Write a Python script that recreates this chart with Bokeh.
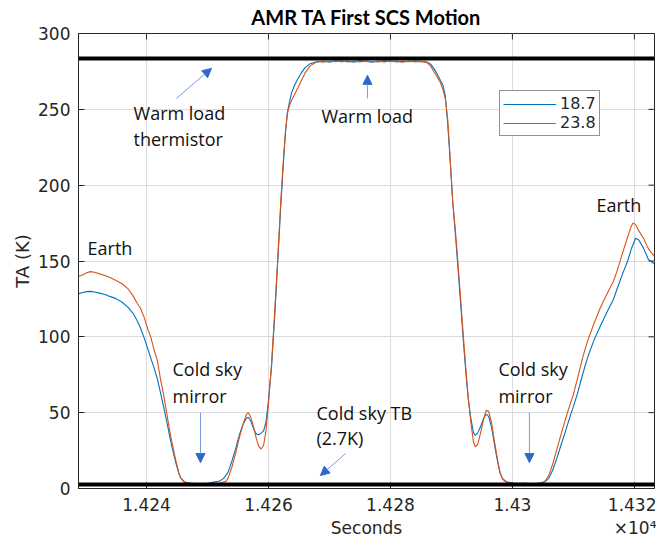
from bokeh.plotting import figure
from bokeh.models import (Range1d, FixedTicker, LinearAxis, Span, Label, Arrow,
                          NormalHead, Legend, LegendItem)
from bokeh.embed import file_html
from bokeh.resources import INLINE

# ---------------- data ----------------
time_s = [
    14228.9, 14229.5, 14230.2, 14230.8, 14231.5, 14232.3, 14233.2, 14234.1, 14235.0, 14236.0,
    14236.9, 14237.8, 14238.5, 14239.0, 14239.6, 14240.3, 14240.7, 14241.2, 14241.8, 14242.3,
    14242.8, 14243.3, 14243.8, 14244.2, 14244.8, 14245.3, 14245.6, 14246.2,
    14247.0, 14248.0, 14249.0, 14250.0, 14251.0, 14252.0, 14252.6, 14253.1,
    14253.4, 14254.0, 14254.6, 14255.2, 14255.8, 14256.4, 14256.7, 14257.1, 14257.6, 14258.0, 14258.4,
    14258.8, 14259.2, 14259.6, 14260.0, 14260.5, 14261.0, 14261.5, 14262.0, 14262.5, 14262.8, 14263.1,
    14263.4, 14263.8, 14264.3, 14264.8, 14265.4, 14266.0, 14266.8, 14267.6,
    14268.0, 14269.0, 14270.0, 14271.0, 14272.0, 14273.0, 14274.0, 14275.0, 14276.0,
    14277.0, 14278.0, 14279.0, 14280.0, 14281.0, 14282.0, 14283.0, 14284.0, 14285.0,
    14286.0, 14286.6, 14287.2, 14287.7, 14288.2, 14288.6, 14289.0, 14289.4, 14289.7, 14290.2,
    14290.8, 14291.4, 14292.0, 14292.5,
    14292.8, 14293.2, 14293.6, 14293.9, 14294.3, 14294.8, 14295.3, 14295.7, 14296.1, 14296.6,
    14297.1, 14297.6, 14298.0, 14298.4, 14299.0,
    14300.0, 14301.0, 14302.0, 14303.0, 14304.0, 14304.7, 14305.2,
    14305.5, 14306.0, 14306.6, 14307.3, 14308.0, 14308.8, 14309.5, 14310.0, 14310.7, 14311.5,
    14312.3, 14313.3, 14314.4, 14315.6, 14316.6, 14317.2, 14318.2, 14318.9, 14319.5, 14319.8,
    14320.2, 14320.7, 14321.5, 14322.3, 14323.3,
]

ta_187 = [
    128.5, 129.2, 129.8, 130.0, 129.6, 128.8, 127.9, 126.5, 125.2, 122.8,
    119.8, 115.5, 110.5, 106.0, 99.5, 91.0, 86.0, 80.0, 72.0, 63.0,
    54.0, 44.5, 34.5, 27.0, 17.0, 10.0, 7.0, 4.5,
    3.6, 3.2, 3.0, 3.3, 4.2, 5.0, 6.5, 9.0,
    11.0, 18.0, 26.0, 35.0, 42.0, 46.5, 47.0, 44.5, 39.0, 36.0, 35.5,
    36.5, 38.0, 44.0, 58.0, 80.0, 112.0, 148.0, 185.0, 218.0, 235.0, 248.0,
    254.0, 261.0, 266.0, 270.0, 274.0, 277.5, 280.0, 281.0,
    281.3, 281.9, 281.0, 282.0, 281.4, 281.8, 281.1, 282.1, 281.5,
    281.0, 281.9, 281.3, 282.0, 281.2, 281.7, 281.4, 281.9, 281.6,
    281.2, 279.8, 276.5, 273.0, 269.0, 266.0, 259.0, 240.0, 222.0, 190.0,
    160.0, 128.0, 95.0, 70.0,
    58.0, 46.0, 37.0, 35.0, 36.5, 41.0, 46.5, 49.0, 47.5, 40.0,
    28.0, 17.0, 10.0, 6.5, 4.5,
    3.6, 3.2, 3.5, 3.1, 3.4, 3.8, 4.5,
    5.0, 7.0, 12.0, 20.0, 29.0, 39.0, 48.0, 54.0, 63.0, 75.0,
    86.0, 97.0, 107.0, 117.0, 125.0, 132.0, 143.0, 150.0, 158.0, 161.0,
    165.0, 164.0, 158.5, 151.0, 148.0,
]

ta_238 = [
    140.0, 140.8, 142.3, 143.0, 142.6, 141.5, 140.5, 139.0, 137.2, 135.0,
    132.0, 127.0, 122.0, 119.0, 113.0, 104.0, 100.0, 92.0, 84.0, 72.0,
    62.0, 50.0, 38.0, 30.0, 18.5, 10.5, 7.0, 4.0,
    3.4, 3.0, 3.1, 3.5, 3.2, 3.6, 4.2, 5.0,
    7.0, 14.0, 23.0, 33.0, 42.0, 49.0, 50.0, 47.0, 40.0, 33.0, 28.0,
    26.0, 28.5, 38.0, 56.0, 82.0, 115.0, 150.0, 188.0, 220.0, 236.0, 247.0,
    252.0, 256.0, 260.0, 264.0, 269.0, 274.0, 278.5, 280.5,
    281.6, 281.1, 281.9, 281.4, 282.0, 281.2, 281.8, 281.3, 281.9,
    281.5, 281.2, 282.1, 281.4, 281.8, 281.0, 281.9, 281.3, 281.5,
    280.8, 278.5, 274.5, 271.0, 267.5, 263.0, 257.0, 243.0, 224.0, 190.0,
    163.0, 131.0, 98.0, 72.0,
    58.0, 43.0, 31.0, 27.5, 29.0, 37.0, 46.0, 51.5, 51.0, 43.0,
    30.0, 18.0, 10.0, 6.0, 4.0,
    3.3, 3.0, 3.4, 3.2, 3.0, 3.5, 4.3,
    5.5, 9.0, 16.0, 26.0, 36.0, 47.0, 56.0, 62.0, 73.0, 86.0,
    97.0, 108.0, 119.0, 129.0, 137.0, 144.0, 157.0, 166.0, 173.0, 175.0,
    174.0, 170.0, 165.0, 158.0, 153.0,
]

series_labels = ["18.7", "23.8"]
x_ticks = [14240, 14260, 14280, 14300, 14320]
x_tick_labels = ["1.424", "1.426", "1.428", "1.43", "1.432"]
y_ticks = [0, 50, 100, 150, 200, 250, 300]
x_label = "Seconds"
x_exponent = "×10⁴"
y_label = "TA (K)"
title_text = "AMR TA First SCS Motion"
warm_load_thermistor = 283.5
cold_sky_tb = 2.7

X0, X1 = 14228.85, 14323.3
Y0, Y1 = 0, 300
X_MID = (X0 + X1) / 2

# ---------------- figure ----------------
TXT = "#262626"
p = figure(width=656, height=540,
           x_range=Range1d(X0, X1), y_range=Range1d(Y0, Y1),
           output_backend="svg", toolbar_location=None,
           min_border_left=78, min_border_right=2,
           min_border_top=33, min_border_bottom=52)
p.outline_line_color = TXT
p.background_fill_color = "white"
p.border_fill_color = "white"

main_x = p.xaxis[0]
main_y = p.yaxis[0]

for ax in (main_x, main_y):
    ax.major_tick_in = 6
    ax.major_tick_out = 0
    ax.minor_tick_line_color = None
    ax.axis_line_color = TXT
    ax.major_tick_line_color = TXT
    ax.major_label_text_color = TXT
    ax.major_label_text_font = "DejaVu Sans"
    ax.major_label_text_font_size = "17px"
    ax.axis_label_text_font = "DejaVu Sans"
    ax.axis_label_text_font_size = "18px"
    ax.axis_label_text_font_style = "normal"
    ax.axis_label_text_color = TXT

main_x.ticker = FixedTicker(ticks=x_ticks)
main_x.major_label_overrides = {t: l for t, l in zip(x_ticks, x_tick_labels)}
main_x.major_label_standoff = 9

main_y.ticker = FixedTicker(ticks=y_ticks)
main_y.major_label_standoff = 8
main_y.axis_label = y_label
main_y.axis_label_standoff = 2

p.xgrid.ticker = FixedTicker(ticks=x_ticks)
p.ygrid.ticker = FixedTicker(ticks=y_ticks)
p.grid.grid_line_color = "#dcdcdc"
p.grid.grid_line_width = 1

# title row, centred over the axes box
title_ax = LinearAxis(ticker=FixedTicker(ticks=[X_MID], minor_ticks=[]),
                      major_label_overrides={X_MID: title_text},
                      axis_line_color=None, major_tick_line_color=None,
                      minor_tick_line_color=None, major_tick_in=0, major_tick_out=0,
                      major_label_standoff=5, major_label_text_font="Lato",
                      major_label_text_font_style="bold",
                      major_label_text_font_size="20px", major_label_text_color="black")
p.add_layout(title_ax, "above")

# second row under the tick labels: axis title centred, exponent at the right end
x_exp_pos = 14320.5
label_ax = LinearAxis(ticker=FixedTicker(ticks=[X_MID, x_exp_pos], minor_ticks=[]),
                      major_label_overrides={X_MID: x_label, x_exp_pos: x_exponent},
                      axis_line_color=None, major_tick_line_color=None,
                      minor_tick_line_color=None, major_tick_in=0, major_tick_out=0,
                      major_label_standoff=4, major_label_text_font="DejaVu Sans",
                      major_label_text_font_size="17px", major_label_text_color=TXT)
p.add_layout(label_ax, "below")

# inward tick marks on the top and right sides of the box
tick_px = 6
frame_w, frame_h = 576, 455
dy_tick = tick_px * (Y1 - Y0) / frame_h
dx_tick = tick_px * (X1 - X0) / frame_w
p.segment(x0=x_ticks, y0=[Y1] * len(x_ticks), x1=x_ticks, y1=[Y1 - dy_tick] * len(x_ticks),
          line_color=TXT, line_width=1)
p.segment(x0=[X1] * len(y_ticks), y0=y_ticks, x1=[X1 - dx_tick] * len(y_ticks), y1=y_ticks,
          line_color=TXT, line_width=1)

# ---------------- series ----------------
r1 = p.line(time_s, ta_187, line_color="#0072BD", line_width=1.1)
r2 = p.line(time_s, ta_238, line_color="#D95319", line_width=1.1)

p.add_layout(Span(location=warm_load_thermistor, dimension="width",
                  line_color="black", line_width=4))
p.add_layout(Span(location=cold_sky_tb, dimension="width",
                  line_color="black", line_width=4))

legend = Legend(items=[LegendItem(label=series_labels[0], renderers=[r1]),
                       LegendItem(label=series_labels[1], renderers=[r2])],
                location=(421, 352), orientation="vertical",
                padding=3, spacing=0, margin=0,
                glyph_width=53, glyph_height=14, label_height=14,
                label_standoff=4,
                label_text_font="DejaVu Sans", label_text_font_size="16px",
                label_text_color=TXT,
                border_line_color=TXT, border_line_width=1,
                background_fill_color="white", background_fill_alpha=1)
p.add_layout(legend)

# ---------------- annotations ----------------
AFONT = "Open Sans"
ACOL = "#111111"


def note(x, y, text, align="left"):
    p.add_layout(Label(x=x, y=y, text=text, text_font=AFONT,
                       text_font_size="18px", text_color=ACOL,
                       text_align=align, text_baseline="middle"))


def arrow(x0, y0, x1, y1):
    p.add_layout(Arrow(x_start=x0, y_start=y0, x_end=x1, y_end=y1,
                       line_color="#6f9be0", line_width=1,
                       end=NormalHead(size=9, fill_color="#2f68c8",
                                      line_color="#2f68c8", line_width=1)))


note(14237.87, 247.4, "Warm load")
note(14237.87, 230.3, "thermistor")
arrow(14244.9, 257.2, 14250.66, 277.0)

note(14276.2, 245.4, "Warm load", align="center")
arrow(14276.23, 257.2, 14276.23, 272.4)

note(14230.33, 158.6, "Earth")
note(14313.77, 186.8, "Earth")

note(14244.26, 78.9, "Cold sky")
note(14244.26, 61.2, "mirror")
arrow(14248.85, 50.0, 14248.85, 17.1)

note(14297.7, 78.9, "Cold sky")
note(14297.7, 61.2, "mirror")
arrow(14302.79, 50.0, 14302.79, 17.1)

note(14267.87, 50.0, "Cold sky TB")
note(14267.87, 33.55, "(2.7K)")
arrow(14272.62, 23.0, 14268.52, 8.55)

open("out.html", "w").write(file_html(p, INLINE))
